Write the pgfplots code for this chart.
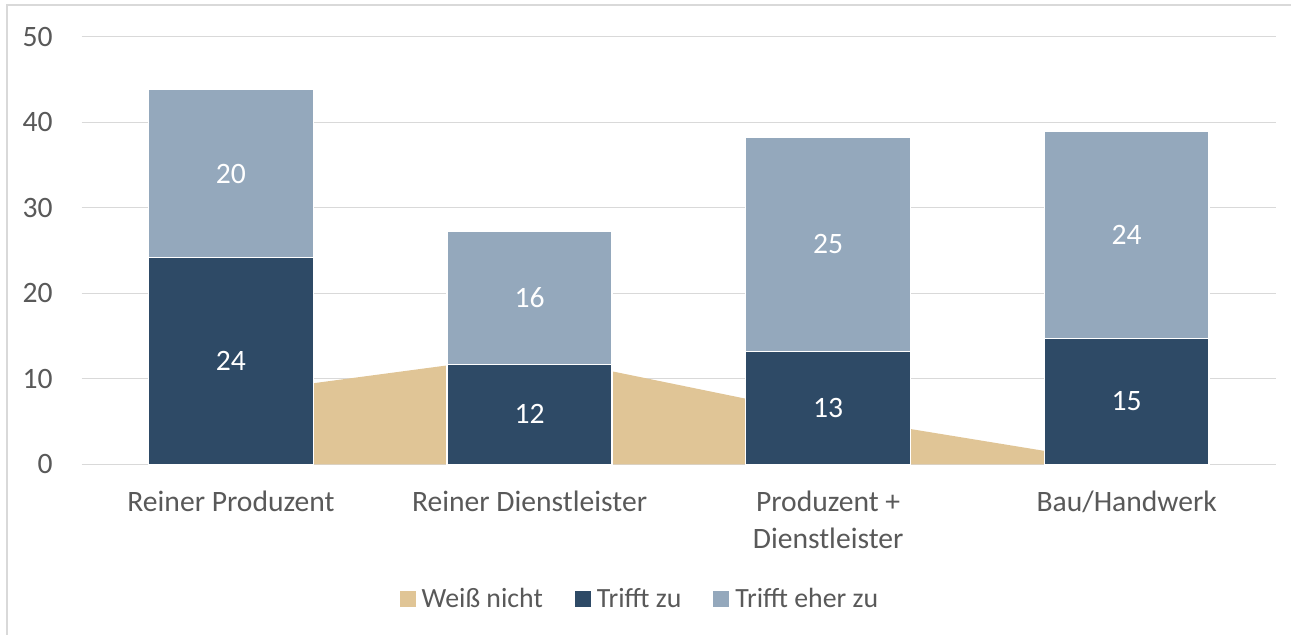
\documentclass[border=0pt]{standalone}
\usepackage{fontspec}
\setmainfont{Carlito}
\usepackage{pgfplots}
\pgfplotsset{compat=1.18}
\definecolor{navy}{HTML}{2E4A66}
\definecolor{steel}{HTML}{94A8BC}
\definecolor{beige}{HTML}{E0C596}
\definecolor{txt}{HTML}{595959}
\definecolor{gridc}{HTML}{D9D9D9}
\newcommand{\cf}{\fontsize{14.8}{18.3}\selectfont}
\newcommand{\lf}{\fontsize{13.9}{16}\selectfont}
\begin{document}
\begin{tikzpicture}
\useasboundingbox (0,0) rectangle (645.5pt,-317pt);
\draw[gridc, line width=0.75pt] (3.5pt,-2.5pt) rectangle (700pt,-400pt);
\begin{axis}[
  at={(40.85pt,-232.15pt)}, anchor=south west, scale only axis,
  width=597.15pt, height=213.8pt,
  xmin=-0.5, xmax=3.5, ymin=0, ymax=50,
  xtick={0,1,2,3}, ytick={0,10,...,50},
  xticklabels={Reiner Produzent, Reiner Dienstleister, {Produzent +\\Dienstleister}, Bau/Handwerk},
  /pgf/number format/assume math mode=true,
  axis line style={draw=none},
  tick style={draw=none},
  ymajorgrids,
  grid style={gridc, line width=0.7pt},
  tick label style={font=\cf, text=txt},
  y tick label style={inner sep=0pt, xshift=-14.3pt},
  x tick label style={align=center, inner sep=0pt, yshift=-13.3pt},
  legend columns=-1,
  legend style={draw=none, at={(0.469,-0.315)}, anchor=center, font=\lf, text=txt,
    /tikz/every even column/.append style={column sep=13pt},
    nodes={inner xsep=3pt}},
  legend image code/.code={\fill[#1, draw=none] (0pt,-4pt) rectangle (8pt,4pt);},
]
% Weiß nicht (area)
\addplot[fill=beige, draw=none] coordinates {(0,8.2) (1,12.85) (2,5.7) (3,0)} \closedcycle;
\addlegendentry{Weiß nicht}
% Trifft zu
\addplot[ybar, stack plots=y, bar shift=0pt, bar width=0.552, fill=navy, draw=white, line width=0.75pt]
  coordinates {(0,24.2) (1,11.7) (2,13.2) (3,14.7)};
\addlegendentry{Trifft zu}
% Trifft eher zu
\addplot[ybar, stack plots=y, bar shift=0pt, bar width=0.552, fill=steel, draw=white, line width=0.75pt]
  coordinates {(0,19.6) (1,15.6) (2,25.1) (3,24.3)};
\addlegendentry{Trifft eher zu}
% data labels
\addplot[draw=none, forget plot, nodes near coords, point meta=explicit symbolic,
  every node near coord/.append style={anchor=center, text=white, font=\cf}]
  coordinates {(0,12.1)[24] (0,34.0)[20] (1,5.85)[12] (1,19.5)[16]
               (2,6.6)[13] (2,25.75)[25] (3,7.35)[15] (3,26.85)[24]};
\end{axis}
\end{tikzpicture}
\end{document}
